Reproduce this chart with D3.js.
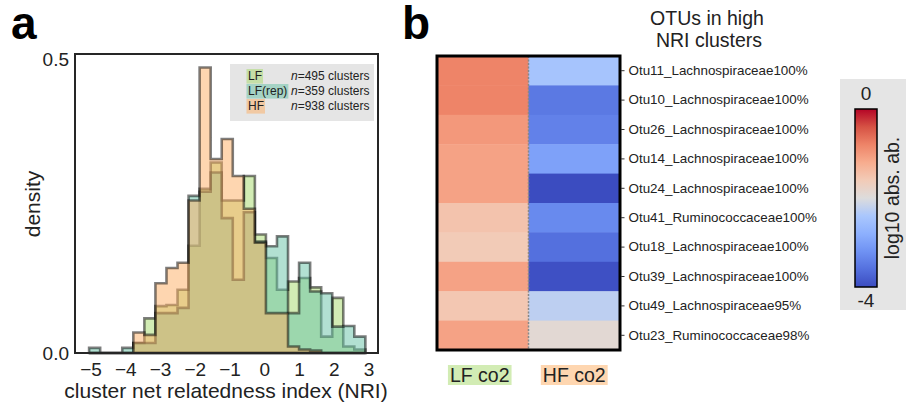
<!DOCTYPE html>
<html><head><meta charset="utf-8">
<script src="https://cdn.jsdelivr.net/npm/d3@7"></script>
<style>
body{margin:0;background:#fff}
svg{display:block;font-family:"Liberation Sans",Arial,sans-serif}
</style>
</head><body>
<svg id="chart" width="906" height="408"></svg>
<script>
// --- panel a: NRI histograms (density per bin, shared bin edges)
const binStart = -5.04
const binWidth = 0.318
const lfDensity    = [0,0,0,0,0.017,0.059,0.08,0.082,0.108,0.183,0.28,0.325,0.26,0.26,0.302,0.202,0.162,0.108,0.122,0.128,0.112,0.028,0.094,0.011,0.006]
const lfRepDensity = [0.0087,0,0,0.0087,0.017,0.017,0.068,0.068,0.077,0.268,0.275,0.308,0.23,0.125,0.24,0.19,0.182,0.199,0.068,0.154,0.105,0.102,0.045,0.046,0.028]
const hfDensity    = [0,0,0,0,0.035,0.031,0.119,0.145,0.154,0.26,0.487,0.331,0.365,0.302,0.246,0.188,0.068,0.068,0.011,0.006,0.004,0,0,0,0]
const seriesNames  = ["LF","LF(rep)","HF"]
const seriesN      = [495,359,938]
const seriesColors = ["#a6d96a","#66c2a5","#fdae61"]
const xTicks = [-5,-4,-3,-2,-1,0,1,2,3]
const yTicks = [0,0.5]

// --- panel b: OTUs in high NRI clusters
const otuLabels = ["Otu11_Lachnospiraceae100%","Otu10_Lachnospiraceae100%","Otu26_Lachnospiraceae100%",
  "Otu14_Lachnospiraceae100%","Otu24_Lachnospiraceae100%","Otu41_Ruminococcaceae100%",
  "Otu18_Lachnospiraceae100%","Otu39_Lachnospiraceae100%","Otu49_Lachnospiraceae95%","Otu23_Ruminococcaceae98%"]
const conditions = ["LF co2","HF co2"]
const lfLogAbund = [-0.8,-0.8,-1.0,-1.1,-1.1,-1.5,-1.6,-1.1,-1.55,-1.1]
const hfLogAbund = [-2.45,-3.5,-3.4,-3.0,-4.0,-3.3,-3.6,-3.95,-2.25,-1.9]
const coolwarm = ["#3b4cc0","#5470de","#6f92f3","#8db0fe","#aac7fd","#dddcdc","#f2cbb7","#f7ac8e","#ee8468","#d65244","#b40426"]

const font = '"Liberation Sans",Arial,sans-serif'
const svg = d3.select("#chart")

// ================= panel a =================
const x = d3.scaleLinear().domain([-5.446,3.273]).range([75,378])
const y = d3.scaleLinear().domain([0,0.51]).range([353,54])

const histG = svg.append("g")
const line = d3.line().x(d=>x(d[0])).y(d=>y(d[1]))
;[lfDensity,lfRepDensity,hfDensity].forEach((dens,i)=>{
  let pts=[[binStart,0]]
  dens.forEach((h,k)=>{
    pts.push([binStart+k*binWidth,h])
    pts.push([binStart+(k+1)*binWidth,h])
  })
  pts.push([binStart+dens.length*binWidth,0])
  histG.append("path")
    .attr("d",line(pts)+"Z")
    .attr("fill",seriesColors[i]).attr("fill-opacity",0.5)
    .attr("stroke","#000").attr("stroke-opacity",0.5)
    .attr("stroke-width",2.6).attr("stroke-linejoin","miter")
})

// frame
svg.append("rect").attr("x",75).attr("y",54).attr("width",303).attr("height",299)
  .attr("fill","none").attr("stroke","#262626").attr("stroke-width",2)

const xAxis = svg.append("g").attr("transform","translate(0,353)")
  .call(d3.axisBottom(x).tickValues(xTicks).tickSize(0).tickPadding(10))
const yAxis = svg.append("g").attr("transform","translate(75,0)")
  .call(d3.axisLeft(y).tickValues(yTicks).tickSize(0).tickPadding(6).tickFormat(d3.format(".1f")))
;[xAxis,yAxis].forEach(a=>{
  a.select(".domain").remove()
  a.selectAll("text").attr("font-size",19).attr("font-family",font).attr("fill","#222")
})

svg.append("text").attr("x",226).attr("y",398).attr("text-anchor","middle")
  .attr("font-size",21).attr("fill","#222").text("cluster net relatedness index (NRI)")
svg.append("text").attr("transform","translate(40,204) rotate(-90)").attr("text-anchor","middle")
  .attr("font-size",21).attr("fill","#222").text("density")

// legend
const leg = svg.append("g")
leg.append("rect").attr("x",230).attr("y",64).attr("width",144).attr("height",57).attr("fill","#e5e5e5")
const legBg = leg.append("g")
const legTx = leg.append("g")
seriesNames.forEach((name,i)=>{
  let cy = 76+i*15
  let t = legTx.append("text").attr("x",248).attr("y",cy+4.3).attr("font-size",12).attr("fill","#222").text(name)
  let bb = t.node().getBBox()
  legBg.append("rect").attr("x",bb.x-1.5).attr("y",bb.y-0.3).attr("width",bb.width+2.5).attr("height",bb.height+0.6)
    .attr("fill",seriesColors[i]).attr("fill-opacity",0.5)
  let nt = legTx.append("text").attr("x",291).attr("y",cy+4.3).attr("font-size",12).attr("fill","#222")
  nt.append("tspan").attr("font-style","italic").text("n")
  nt.append("tspan").text(`=${seriesN[i]} clusters`)
})

// panel letters
svg.append("text").attr("x",11).attr("y",39).attr("font-size",46).attr("font-weight","bold").text("a")
svg.append("text").attr("x",402).attr("y",39).attr("font-size",46).attr("font-weight","bold").text("b")

// ================= panel b =================
const colX = d3.scaleBand().domain(conditions).range([437,620])
const rowY = d3.scaleBand().domain(otuLabels).range([56,350])
const color = d3.scaleLinear()
  .domain(coolwarm.map((c,i)=>-4+4*i/(coolwarm.length-1)))
  .range(coolwarm).interpolate(d3.interpolateRgb).clamp(true)

const cells=[]
otuLabels.forEach((o,i)=>{
  cells.push({otu:o,cond:conditions[0],v:lfLogAbund[i]})
  cells.push({otu:o,cond:conditions[1],v:hfLogAbund[i]})
})
svg.append("g").selectAll("rect").data(cells).join("rect")
  .attr("x",d=>colX(d.cond)).attr("y",d=>rowY(d.otu))
  .attr("width",colX.bandwidth()+0.5).attr("height",rowY.bandwidth()+0.5)
  .attr("fill",d=>color(d.v))

svg.append("line").attr("x1",colX(conditions[1])).attr("x2",colX(conditions[1]))
  .attr("y1",56).attr("y2",350).attr("stroke","#888").attr("stroke-width",1.5).attr("stroke-dasharray","2,1.5")
svg.append("rect").attr("x",437).attr("y",56).attr("width",183).attr("height",294)
  .attr("fill","none").attr("stroke","#000").attr("stroke-width",3)

const rAxis = svg.append("g").attr("transform","translate(621,0)")
  .call(d3.axisRight(rowY).tickSize(3.5).tickPadding(4))
rAxis.select(".domain").remove()
rAxis.selectAll("line").attr("stroke","#333")
rAxis.selectAll("text").attr("font-size",13.4).attr("font-family",font).attr("fill","#222")

// title
svg.append("text").attr("x",707).attr("y",25).attr("text-anchor","middle").attr("font-size",19.5).attr("fill","#222").text("OTUs in high")
svg.append("text").attr("x",709).attr("y",47).attr("text-anchor","middle").attr("font-size",19.5).attr("fill","#222").text("NRI clusters")

// column labels with coloured boxes
const condColors = [seriesColors[0],seriesColors[2]]
const condBg = svg.append("g")
const condTx = svg.append("g")
conditions.forEach((c,i)=>{
  let t = condTx.append("text").attr("x",colX(c)+colX.bandwidth()/2-3+i*3).attr("y",382)
    .attr("text-anchor","middle").attr("font-size",19.5).attr("fill","#222").text(c)
  let bb = t.node().getBBox()
  condBg.append("rect").attr("x",bb.x-2).attr("y",bb.y+1).attr("width",bb.width+4).attr("height",bb.height-2)
    .attr("fill",condColors[i]).attr("fill-opacity",0.5)
})

// colorbar
const cb = svg.append("g")
cb.append("rect").attr("x",840).attr("y",79).attr("width",66).attr("height",231).attr("fill","#e5e5e5")
const grad = svg.append("defs").append("linearGradient").attr("id","cw")
  .attr("x1",0).attr("x2",0).attr("y1",1).attr("y2",0)
coolwarm.forEach((c,i)=>grad.append("stop").attr("offset",i/(coolwarm.length-1)).attr("stop-color",c))
const cbY = d3.scaleLinear().domain([-4,0]).range([287,109])
cb.append("rect").attr("x",855).attr("y",cbY(0)).attr("width",22).attr("height",cbY(-4)-cbY(0))
  .attr("fill","url(#cw)").attr("stroke","#000").attr("stroke-width",1.5)
cb.append("text").attr("x",866).attr("y",cbY(0)-9).attr("text-anchor","middle").attr("font-size",19).attr("fill","#222").text("0")
cb.append("text").attr("x",866).attr("y",cbY(-4)+20).attr("text-anchor","middle").attr("font-size",19).attr("fill","#222").text("-4")
cb.append("text").attr("transform",`translate(899,${(cbY(0)+cbY(-4))/2}) rotate(-90)`).attr("text-anchor","middle")
  .attr("font-size",19.5).attr("fill","#222").text("log10 abs. ab.")
</script>
</body></html>
